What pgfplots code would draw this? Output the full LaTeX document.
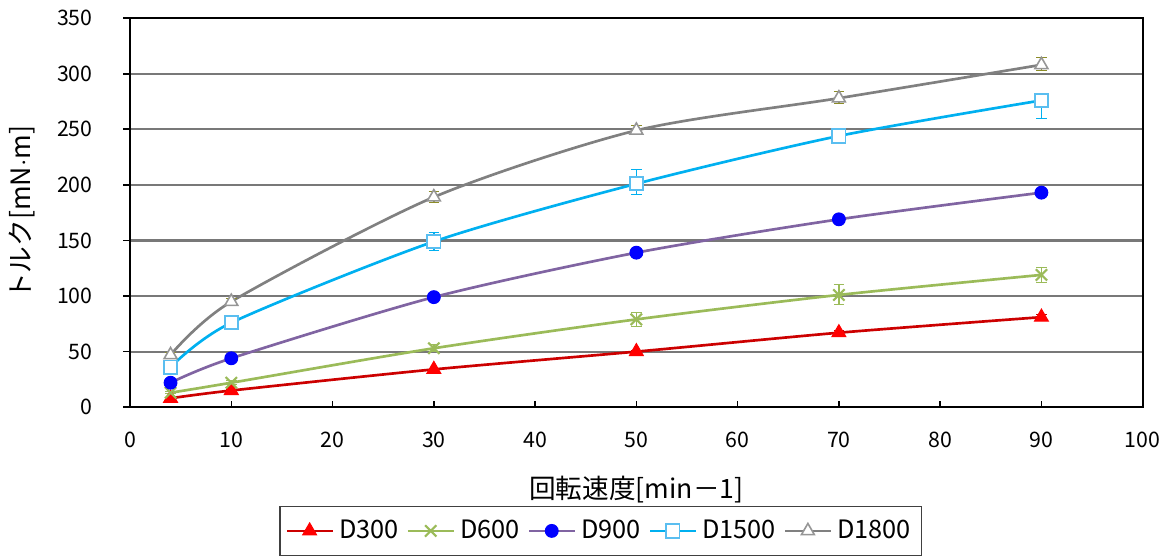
\documentclass[border=0pt]{standalone}
\usepackage{pgfplots}
\pgfplotsset{compat=1.18}
\usepackage{pgfplotstable}
\usepackage{fontspec}
\setmainfont{Noto Sans CJK JP}

\definecolor{cRed}{RGB}{204,0,0}
\definecolor{cRedM}{RGB}{255,0,0}
\definecolor{cGreen}{RGB}{155,187,89}
\definecolor{cPurple}{RGB}{128,100,162}
\definecolor{cBlueM}{RGB}{0,0,255}
\definecolor{cCyan}{RGB}{0,176,240}
\definecolor{cCyanM}{RGB}{90,190,240}
\definecolor{cGray}{RGB}{128,128,128}
\definecolor{cGrayM}{RGB}{150,150,150}
\definecolor{cOlive}{RGB}{140,140,40}
\definecolor{cGrid}{RGB}{120,120,120}

% rotational speed, torque, error plus, error minus
\pgfplotstableread{
x  y   ep  em
4  8   1   1
10 15  1   1
30 34  1   1
50 50  1   1
70 67  2   2
90 81  2   2
}\dA
\pgfplotstableread{
x  y   ep  em
4  13  1   1
10 22  2   2
30 53  3   3
50 79  6   6
70 101 9   9
90 119 7   7
}\dB
\pgfplotstableread{
x  y   ep  em
4  22  1   1
10 44  1   1
30 99  2   2
50 139 2   2
70 169 2   2
90 193 2   2
}\dC
\pgfplotstableread{
x  y   ep  em
4  36  2   2
10 76  3   3
30 149 8   8
50 201 13  10
70 244 5   5
90 276 6   16
}\dD
\pgfplotstableread{
x  y   ep  em
4  47  2   2
10 95  3   3
30 189 5   5
50 249 4   4
70 278 6   5
90 308 7   5
}\dE

\begin{document}
\begin{tikzpicture}
\begin{axis}[
  scale only axis, width=380pt, height=146pt,
  xmin=0, xmax=100, ymin=0, ymax=350,
  xtick={0,10,...,100}, ytick={0,50,...,350},
  ymajorgrids, grid style={cGrid, line width=0.8pt},
  axis line style={black, line width=0.8pt},
  tick style={black, line width=0.6pt},
  major tick length=2.5pt,
  xtick pos=bottom, ytick pos=left,
  xtick align=inside, ytick align=outside,
  /pgf/number format/assume math mode=true,
  ticklabel style={font=\fontsize{8}{9}\selectfont},
  xticklabel style={anchor=center, yshift=-12.4pt},
  yticklabel style={anchor=east, xshift=-8pt},
  xlabel={回転速度[min－1]},
  ylabel={トルク[mN$\cdot$m]},
  label style={font=\fontsize{8}{9}\selectfont},
  every axis x label/.style={at={(axis description cs:0.5,-0.212)}, anchor=center},
  every axis y label/.style={at={(axis description cs:-0.1066,0.5)}, anchor=center, rotate=90},
  legend columns=-1,
  legend style={at={(axis description cs:0.465,-0.318)}, anchor=center,
    draw=black!75, line width=0.6pt, font=\fontsize{9.5}{11}\selectfont,
    inner xsep=2pt, inner ysep=3pt,
    /tikz/every even column/.append style={column sep=1pt}},
  legend image code/.code={%
    \draw[mark repeat=2, mark phase=2] plot coordinates {(0cm,0cm) (0.3cm,0cm) (0.6cm,0cm)};},
  every axis plot/.append style={line width=1pt, smooth, tension=0.45},
  error bars/y dir=both, error bars/y explicit,
]
\addplot[cRed, mark=triangle*, mark size=3pt, mark options={fill=cRedM, draw=cRedM, line width=0.4pt, solid},
  error bars/error bar style={cRed, line width=0.6pt}, error bars/error mark options={rotate=90, mark size=2pt, cRed}]
  table[x=x, y=y, y error plus=ep, y error minus=em] {\dA};
\addlegendentry{D300}
\addplot[cGreen, mark=x, mark size=3pt, mark options={cGreen, line width=0.8pt},
  error bars/error bar style={cGreen, line width=0.6pt}, error bars/error mark options={rotate=90, mark size=2pt, cGreen}]
  table[x=x, y=y, y error plus=ep, y error minus=em] {\dB};
\addlegendentry{D600}
\addplot[cPurple, mark=*, mark size=2.4pt, mark options={fill=cBlueM, draw=cBlueM, line width=0.4pt},
  error bars/error bar style={cPurple, line width=0.6pt}, error bars/error mark options={rotate=90, mark size=2pt, cPurple}]
  table[x=x, y=y, y error plus=ep, y error minus=em] {\dC};
\addlegendentry{D900}
\addplot[cCyan, mark=square*, mark size=2.5pt, mark options={fill=white, draw=cCyanM, line width=0.7pt},
  error bars/error bar style={cCyan, line width=0.6pt}, error bars/error mark options={rotate=90, mark size=2pt, cCyan}]
  table[x=x, y=y, y error plus=ep, y error minus=em] {\dD};
\addlegendentry{D1500}
\addplot[cGray, mark=triangle*, mark size=2.8pt, mark options={fill=white, draw=cGrayM, line width=0.6pt},
  error bars/error bar style={cOlive, line width=0.6pt}, error bars/error mark options={rotate=90, mark size=2pt, cOlive}]
  table[x=x, y=y, y error plus=ep, y error minus=em] {\dE};
\addlegendentry{D1800}
\end{axis}
\pgfresetboundingbox
\useasboundingbox (-48.8pt,-56.3pt) rectangle (391pt,152.8pt);
\end{tikzpicture}
\end{document}
